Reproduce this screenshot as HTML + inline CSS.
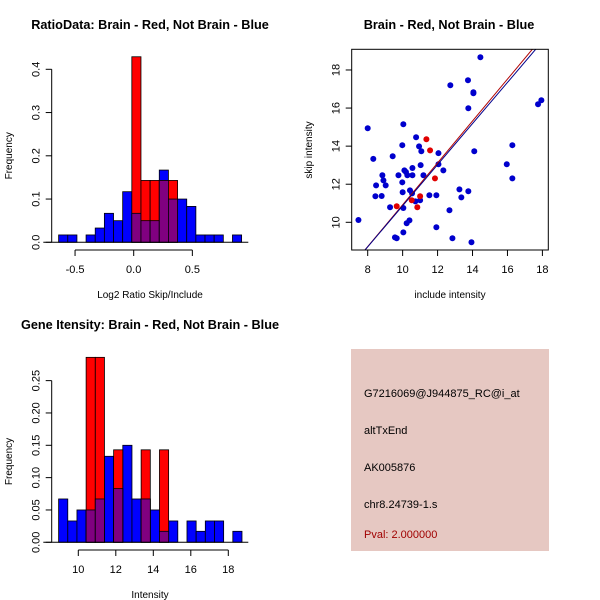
<!DOCTYPE html>
<html><head><meta charset="utf-8"><style>
body{margin:0;background:#fff}
svg{display:block;font-family:"Liberation Sans",sans-serif}
</style></head><body>
<svg id="c" width="600" height="600" viewBox="0 0 600 600">
<rect x="351" y="349" width="198" height="202" fill="#e6c8c2"/>
<g font-size="11">
<text x="364" y="397">G7216069@J944875_RC@i_at</text>
<text x="364" y="434">altTxEnd</text>
<text x="364" y="471">AK005876</text>
<text x="364" y="508">chr8.24739-1.s</text>
<text x="364" y="538" fill="#a00000">Pval: 2.000000</text>
</g>
</svg>
<script>
// ---- Panel 1: ratio histogram ----
const ratioBinStart = -0.64;
const ratioBinWidth = 0.078;
const ratioBlue = [0.017,0.017,0,0.017,0.033,0.067,0.05,0.117,0.067,0.05,0.05,0.167,0.1,0.1,0.083,0.017,0.017,0.017,0,0.017];
const ratioRed  = [0,0,0,0,0,0,0,0,0.429,0.143,0.143,0.143,0.143,0,0,0,0,0,0,0];
const ratioYTicks = [0,0.1,0.2,0.3,0.4];
const ratioXTicks = [-0.5,0,0.5];
const ratioXLabels = ["-0.5","0.0","0.5"];
const ratioYLabels = ["0.0","0.1","0.2","0.3","0.4"];
// ---- Panel 3: intensity histogram ----
const intBinStart = 8.95;
const intBinWidth = 0.489;
const intBlue = [0.067,0.033,0.05,0.05,0.067,0.133,0.083,0.15,0.067,0.067,0.05,0.017,0.033,0,0.033,0.017,0.033,0.033,0,0.017];
const intRed  = [0,0,0,0.286,0.286,0,0.143,0,0,0.143,0,0.143,0,0,0,0,0,0,0,0];
const intYTicks = [0,0.05,0.1,0.15,0.2,0.25];
const intYLabels = ["0.00","0.05","0.10","0.15","0.20","0.25"];
const intXTicks = [10,12,14,16,18];
// ---- Panel 2: scatter ----
const blueX = [7.47,8.0,8.32,8.48,8.44,8.8,8.84,8.9,9.03,9.28,9.43,9.56,9.66,9.76,9.98,9.98,10.0,10.04,10.04,10.04,10.1,10.19,10.27,10.23,10.39,10.42,10.56,10.56,10.54,10.77,10.73,10.94,11.0,11.03,11.07,11.19,11.53,11.93,11.93,12.05,12.05,12.33,12.68,12.73,12.85,13.25,13.36,13.74,13.76,13.76,13.94,14.05,14.05,14.1,14.45,15.96,16.28,16.28,17.75,17.94];
const blueY = [10.12,14.94,13.33,11.94,11.37,11.38,12.47,12.2,11.94,10.79,13.47,9.21,9.16,12.47,12.1,14.05,11.58,15.15,10.75,9.47,12.73,12.64,12.47,9.95,10.1,11.68,12.47,12.85,11.52,14.47,11.1,13.99,11.16,13.0,13.73,12.47,11.42,11.42,9.74,13.63,13.05,12.73,10.63,17.2,9.16,11.73,11.31,17.46,15.99,11.63,8.95,16.83,16.78,13.73,18.67,13.05,14.05,12.31,16.2,16.41];
const redX = [9.66,10.52,10.84,11.0,11.36,11.57,11.85];
const redY = [10.84,11.16,10.79,11.37,14.36,13.78,12.31];
const fitRed = [-0.08,1.1];   // intercept, slope
const fitBlue = [0.08,1.079];
const scatXTicks = [8,10,12,14,16,18];
const scatYTicks = [10,12,14,16,18];

const svg = document.getElementById('c');
const NS = 'http://www.w3.org/2000/svg';
function mk(tag, attrs, parent){const e=document.createElementNS(NS,tag);for(const k in attrs)e.setAttribute(k,attrs[k]);(parent||svg).appendChild(e);return e;}
function txt(x,y,s,attrs,parent){const e=mk('text',Object.assign({x:x,y:y},attrs||{}),parent);e.textContent=s;return e;}

function hist(cfg){
  const g=mk('g',{});
  
  
  const X=v=>cfg.x0+(v-cfg.d0)*cfg.kx, Y=v=>cfg.y0-v*cfg.ky;
  const n=cfg.blue.length;
  for(let i=0;i<n;i++){
    const a=cfg.start+i*cfg.w,b=a+cfg.w;
    if(cfg.blue[i]>0){const r=mk('rect',{x:X(a),y:Y(cfg.blue[i]),width:X(b)-X(a),height:Y(0)-Y(cfg.blue[i]),fill:'#0000ff',stroke:'#000','stroke-width':0.8},g);
      
      }
  }
  for(let i=0;i<n;i++){
    const a=cfg.start+i*cfg.w,b=a+cfg.w;
    if(cfg.red[i]>0){const r=mk('rect',{x:X(a),y:Y(cfg.red[i]),width:X(b)-X(a),height:Y(0)-Y(cfg.red[i]),fill:'#ff0000',stroke:'#000','stroke-width':0.8},g);
      
      }
    if(cfg.red[i]>0&&cfg.blue[i]>0){const m=Math.min(cfg.red[i],cfg.blue[i]);
      const p=mk('rect',{x:X(a),y:Y(m),width:X(b)-X(a),height:Y(0)-Y(m),fill:'#800080',stroke:'#000','stroke-width':0.8},g);
      
      }
  }
  const base=mk('line',{x1:43.3,x2:248.3,y1:Y(0),y2:Y(0),stroke:'#000'},g);
  
  
  // y axis
  const ax=cfg.yax;
  mk('line',{x1:ax,x2:ax,y1:Y(cfg.yt[0]),y2:Y(cfg.yt[cfg.yt.length-1]),stroke:'#000'},g);
  cfg.yt.forEach((t,i)=>{mk('line',{x1:ax,x2:ax-6,y1:Y(t),y2:Y(t),stroke:'#000'},g);
    const l=txt(ax-12,Y(t),cfg.yl[i],{'font-size':11,'text-anchor':'middle',transform:`rotate(-90 ${ax-12} ${Y(t)})`},g);
    
    });
  const ay=cfg.xay;
  mk('line',{x1:X(cfg.xt[0]),x2:X(cfg.xt[cfg.xt.length-1]),y1:ay,y2:ay,stroke:'#000'},g);
  cfg.xt.forEach((t,i)=>{mk('line',{x1:X(t),x2:X(t),y1:ay,y2:ay+6,stroke:'#000'},g);
    const l=txt(X(t),ay+23,cfg.xl[i],{'font-size':11,'text-anchor':'middle'},g);
    
    });
  const t=txt(cfg.tx,cfg.ty,cfg.title,{'font-size':12.7,'font-weight':'bold','text-anchor':'middle'},g);
  
  
  const xl=txt(150,cfg.xlabY,cfg.xlab,{'font-size':10,'text-anchor':'middle'},g);
  
  
  const yc=(Y(0)+Y(cfg.yt[cfg.yt.length-1]))/2;
  const yl=txt(12,yc,'Frequency',{'font-size':10,'text-anchor':'middle',transform:`rotate(-90 12 ${yc})`},g);
  
  
}
hist({name:'ratio-histogram',blue:ratioBlue,red:ratioRed,start:ratioBinStart,w:ratioBinWidth,
  x0:133.7,d0:0,kx:117.3,y0:242.3,ky:432.5,yax:51.7,xay:250,yt:ratioYTicks,yl:ratioYLabels,xt:ratioXTicks,xl:ratioXLabels,
  title:'RatioData: Brain - Red, Not Brain - Blue',tx:150,ty:29,xlab:'Log2 Ratio Skip/Include',xlabY:298});
hist({name:'intensity-histogram',blue:intBlue,red:intRed,start:intBinStart,w:intBinWidth,
  x0:78.3,d0:10,kx:18.75,y0:542.3,ky:646.7,yax:51.7,xay:550,yt:intYTicks,yl:intYLabels,xt:intXTicks,xl:intXTicks.map(String),
  title:'Gene Itensity: Brain - Red, Not Brain - Blue',tx:150,ty:329,xlab:'Intensity',xlabY:598});

// scatter
(function(){
  const g=mk('g',{});
  
  
  const L=351.7,R=548.3,T=49.3,B=250;
  const X=v=>367.7+(v-8)*17.47, Y=v=>222.3-(v-10)*19.04;
  const dx0=8-(367.7-L)/17.47, dx1=8+(R-367.7)/17.47;
  const cp=mk('clipPath',{id:'sc'},g);mk('rect',{x:L,y:T,width:R-L,height:B-T},cp);
  const pts=mk('g',{'clip-path':'url(#sc)'},g);
  blueX.forEach((x,i)=>{const c=mk('circle',{cx:X(x),cy:Y(blueY[i]),r:3,fill:'#0000cd'},pts);
    
    });
  redX.forEach((x,i)=>{const c=mk('circle',{cx:X(x),cy:Y(redY[i]),r:3,fill:'#e00000'},pts);
    
    });
  const lr=mk('line',{x1:X(dx0),y1:Y(fitRed[0]+fitRed[1]*dx0),x2:X(dx1),y2:Y(fitRed[0]+fitRed[1]*dx1),stroke:'#b00000','stroke-width':1},pts);
  
  
  const lb=mk('line',{x1:X(dx0),y1:Y(fitBlue[0]+fitBlue[1]*dx0),x2:X(dx1),y2:Y(fitBlue[0]+fitBlue[1]*dx1),stroke:'#00008b','stroke-width':1},pts);
  
  
  mk('rect',{x:L,y:T,width:R-L,height:B-T,fill:'none',stroke:'#000'},g);
  scatXTicks.forEach(t=>{mk('line',{x1:X(t),x2:X(t),y1:B,y2:B+6,stroke:'#000'},g);
    const l=txt(X(t),B+23,String(t),{'font-size':11,'text-anchor':'middle'},g);
    
    });
  scatYTicks.forEach(t=>{mk('line',{x1:L,x2:L-6,y1:Y(t),y2:Y(t),stroke:'#000'},g);
    const l=txt(L-12,Y(t),String(t),{'font-size':11,'text-anchor':'middle',transform:`rotate(-90 ${L-12} ${Y(t)})`},g);
    
    });
  const t=txt(449,29,'Brain - Red, Not Brain - Blue',{'font-size':12.7,'font-weight':'bold','text-anchor':'middle'},g);
  
  
  const xl=txt(450,298,'include intensity',{'font-size':10,'text-anchor':'middle'},g);
  
  
  const yl=txt(312,150,'skip intensity',{'font-size':10,'text-anchor':'middle',transform:'rotate(-90 312 150)'},g);
  
  
})();
</script>
</body></html>
